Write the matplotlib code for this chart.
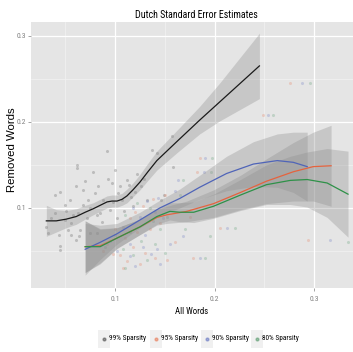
import matplotlib
matplotlib.use("Agg")
import matplotlib.pyplot as plt
import numpy as np
from matplotlib.patches import Rectangle
from matplotlib.lines import Line2D
from matplotlib import font_manager as fm

# ---------------- data ----------------
series_names = ["99% Sparsity", "95% Sparsity", "90% Sparsity", "80% Sparsity"]

pts99_x = [0.031, 0.033, 0.036, 0.040, 0.045, 0.044, 0.045, 0.045, 0.050, 0.051, 0.053, 0.055,
           0.056, 0.058, 0.056, 0.062, 0.062, 0.061, 0.063, 0.065, 0.064, 0.068, 0.070, 0.072,
           0.073, 0.075, 0.078, 0.080, 0.082, 0.083, 0.085, 0.087, 0.088, 0.092, 0.093, 0.095,
           0.097, 0.098, 0.100, 0.102, 0.103, 0.105, 0.107, 0.109, 0.112, 0.114, 0.116, 0.118,
           0.120, 0.122, 0.126, 0.129, 0.132, 0.137, 0.142, 0.146, 0.149, 0.157, 0.158, 0.068,
           0.050, 0.040, 0.075, 0.082, 0.061]
pts99_y = [0.078, 0.071, 0.088, 0.115, 0.119, 0.069, 0.051, 0.056, 0.103, 0.097, 0.074, 0.109,
           0.082, 0.092, 0.069, 0.150, 0.146, 0.125, 0.094, 0.074, 0.067, 0.121, 0.131, 0.088,
           0.109, 0.100, 0.142, 0.117, 0.092, 0.125, 0.094, 0.084, 0.109, 0.166, 0.134, 0.098,
           0.129, 0.107, 0.144, 0.088, 0.117, 0.125, 0.109, 0.096, 0.133, 0.127, 0.113, 0.102,
           0.119, 0.140, 0.125, 0.134, 0.109, 0.167, 0.164, 0.109, 0.115, 0.183, 0.148, 0.103,
           0.086, 0.094, 0.071, 0.071, 0.063]

pts95_x = [0.105, 0.112, 0.098, 0.118, 0.125, 0.130, 0.108, 0.140, 0.152, 0.120, 0.128, 0.115,
           0.135, 0.145, 0.110, 0.092, 0.100, 0.160, 0.175, 0.150, 0.185, 0.182, 0.205, 0.178,
           0.249, 0.276, 0.294, 0.138, 0.122, 0.088]
pts95_y = [0.045, 0.038, 0.047, 0.055, 0.035, 0.048, 0.030, 0.042, 0.040, 0.095, 0.102, 0.088,
           0.075, 0.083, 0.065, 0.058, 0.075, 0.060, 0.090, 0.115, 0.158, 0.142, 0.077, 0.042,
           0.208, 0.245, 0.063, 0.110, 0.072, 0.050]

pts90_x = [0.102, 0.115, 0.120, 0.128, 0.136, 0.142, 0.145, 0.118, 0.132, 0.125, 0.140, 0.148,
           0.108, 0.130, 0.155, 0.095, 0.168, 0.160, 0.190, 0.189, 0.212, 0.185, 0.254, 0.288,
           0.316, 0.143, 0.115, 0.163]
pts90_y = [0.050, 0.044, 0.033, 0.055, 0.046, 0.052, 0.035, 0.100, 0.108, 0.090, 0.095, 0.088,
           0.078, 0.068, 0.058, 0.062, 0.067, 0.120, 0.158, 0.142, 0.077, 0.042, 0.208, 0.245,
           0.063, 0.112, 0.058, 0.133]

pts80_x = [0.108, 0.110, 0.118, 0.132, 0.140, 0.150, 0.126, 0.122, 0.135, 0.110, 0.145, 0.152,
           0.100, 0.115, 0.090, 0.170, 0.165, 0.197, 0.196, 0.220, 0.190, 0.259, 0.296, 0.334,
           0.168, 0.195, 0.138]
pts80_y = [0.052, 0.030, 0.045, 0.040, 0.058, 0.048, 0.062, 0.106, 0.100, 0.092, 0.076, 0.090,
           0.068, 0.072, 0.055, 0.075, 0.115, 0.158, 0.142, 0.077, 0.042, 0.208, 0.245, 0.060,
           0.133, 0.067, 0.085]

# smoothed curves and standard-error half widths
fit99_x  = [0.031, 0.041, 0.051, 0.061, 0.070, 0.078, 0.085, 0.092, 0.097, 0.102, 0.107, 0.112,
            0.118, 0.125, 0.133, 0.142, 0.162, 0.185, 0.205, 0.225, 0.245]
fit99_y  = [0.085, 0.085, 0.087, 0.090, 0.095, 0.099, 0.103, 0.107, 0.108, 0.108, 0.110, 0.114,
            0.121, 0.130, 0.142, 0.155, 0.177, 0.202, 0.223, 0.244, 0.265]
fit99_se = [0.018, 0.013, 0.010, 0.009, 0.008, 0.007, 0.007, 0.007, 0.007, 0.007, 0.007, 0.008,
            0.008, 0.009, 0.010, 0.011, 0.013, 0.016, 0.022, 0.030, 0.038]

fit95_x  = [0.070, 0.085, 0.102, 0.125, 0.142, 0.152, 0.172, 0.199, 0.226, 0.252, 0.279, 0.299, 0.317]
fit95_y  = [0.055, 0.056, 0.065, 0.078, 0.089, 0.092, 0.096, 0.105, 0.118, 0.131, 0.142, 0.148, 0.149]
fit95_se = [0.030, 0.020, 0.012, 0.009, 0.009, 0.010, 0.012, 0.016, 0.020, 0.026, 0.034, 0.040, 0.047]

fit90_x  = [0.070, 0.085, 0.102, 0.125, 0.145, 0.165, 0.185, 0.212, 0.239, 0.263, 0.279, 0.293]
fit90_y  = [0.052, 0.060, 0.070, 0.086, 0.100, 0.111, 0.124, 0.140, 0.151, 0.155, 0.153, 0.148]
fit90_se = [0.030, 0.020, 0.012, 0.009, 0.009, 0.011, 0.014, 0.020, 0.026, 0.031, 0.035, 0.040]

fit80_x  = [0.070, 0.085, 0.102, 0.125, 0.142, 0.155, 0.165, 0.179, 0.199, 0.226, 0.252, 0.276, 0.293, 0.313, 0.334]
fit80_y  = [0.055, 0.055, 0.065, 0.078, 0.090, 0.096, 0.095, 0.095, 0.102, 0.115, 0.127, 0.132, 0.133, 0.129, 0.116]
fit80_se = [0.030, 0.020, 0.012, 0.009, 0.009, 0.010, 0.011, 0.012, 0.014, 0.018, 0.023, 0.028, 0.032, 0.040, 0.050]

x_ticks = [0.1, 0.2, 0.3]
y_ticks = [0.1, 0.2, 0.3]

# ---------------- fonts ----------------
avail = {(f.name, f.stretch) for f in fm.fontManager.ttflist}
avail_names = {n for n, _ in avail}
narrow_kw = None
for cand in ["Liberation Sans Narrow", "Roboto Condensed", "Open Sans Condensed", "Noto Sans Condensed"]:
    if cand in avail_names:
        narrow_kw = dict(family=[cand, "DejaVu Sans"])
        break
if narrow_kw is None:
    if ("DejaVu Sans", "condensed") in avail or ("DejaVu Sans", "semi-condensed") in avail:
        narrow_kw = dict(family=["DejaVu Sans"], fontstretch="condensed")
    else:
        narrow_kw = dict(family=["Liberation Sans", "DejaVu Sans"])
NARROW_SCALE = 1.0 if narrow_kw["family"][0] != "Liberation Sans" else 0.88

point_colors = ["#555555", "#E8805E", "#6C7CC4", "#5E9E72"]
line_colors = ["#1a1a1a", "#E5633E", "#4F64B8", "#2E9148"]

fig = plt.figure(figsize=(3.53, 3.52), dpi=100)
ax = fig.add_axes([31 / 353, 1 - 288 / 352, 1 - 31 / 353, (288 - 22) / 352])
ax.set_facecolor("#E5E5E5")
ax.set_xlim(0.0156, 0.339)
ax.set_ylim(0.007, 0.316)

for v in [0.05, 0.15, 0.25]:
    ax.axvline(v, color="#F2F2F2", lw=0.5, zorder=0)
    ax.axhline(v, color="#F2F2F2", lw=0.5, zorder=0)
for v in x_ticks:
    ax.axvline(v, color="white", lw=0.9, zorder=0)
for v in y_ticks:
    ax.axhline(v, color="white", lw=0.9, zorder=0)

pts = [(pts99_x, pts99_y), (pts95_x, pts95_y), (pts90_x, pts90_y), (pts80_x, pts80_y)]
for (px, py), c in zip(pts, point_colors):
    ax.scatter(px, py, s=5, color=c, alpha=0.28, linewidths=0, zorder=2)

fits = [(fit99_x, fit99_y, fit99_se), (fit95_x, fit95_y, fit95_se),
        (fit90_x, fit90_y, fit90_se), (fit80_x, fit80_y, fit80_se)]
for (fx, fy, fs) in fits:
    fx = np.array(fx); fy = np.array(fy); fs = np.array(fs)
    ax.fill_between(fx, fy - fs, fy + fs, color="#8C8C8C", alpha=0.33, linewidth=0, zorder=3)
for (fx, fy, fs), c in zip(fits, line_colors):
    ax.plot(fx, fy, color=c, lw=0.9, zorder=4)

for s in ax.spines.values():
    s.set_visible(False)
ax.set_xticks(x_ticks)
ax.set_yticks(y_ticks)
ax.set_xticklabels([f"{v:.1f}" for v in x_ticks], fontsize=5.5 * NARROW_SCALE, color="#808080", **narrow_kw)
ax.set_yticklabels([f"{v:.1f}" for v in y_ticks], fontsize=5.5 * NARROW_SCALE, color="#808080", **narrow_kw)
ax.tick_params(axis="x", length=2, width=0.5, color="#808080", pad=4)
ax.tick_params(axis="y", length=2, width=0.5, color="#808080", pad=1.5)

ax.set_xlabel("All Words", fontsize=6.3 * NARROW_SCALE, labelpad=3, **narrow_kw)
fig.text(12.5 / 353, 1 - 150 / 352, "Removed Words", rotation=90,
         family=["Liberation Sans", "DejaVu Sans"],
         fontsize=8.2, ha="center", va="center")
fig.text(196 / 353, 1 - 15 / 352, "Dutch Standard Error Estimates", fontsize=7.2 * NARROW_SCALE,
         ha="center", va="center", **narrow_kw)

# legend (manual, ggplot style)
key_centers = [104, 156, 207, 257]
for cx, name, c in zip(key_centers, series_names, point_colors):
    fig.patches.append(Rectangle(((cx - 6) / 353, 1 - 348 / 352), 12 / 353, 18 / 352,
                                 transform=fig.transFigure, facecolor="#F0F0F0",
                                 edgecolor="none"))
    fig.lines.append(Line2D([cx / 353], [1 - 339 / 352], marker="o", markersize=2,
                            color=c, alpha=0.6, linestyle="none",
                            transform=fig.transFigure))
    fig.text((cx + 5) / 353, 1 - 339 / 352, name, fontsize=5.3 * NARROW_SCALE,
             ha="left", va="center", **narrow_kw)

fig.savefig("out.png", dpi=100)
